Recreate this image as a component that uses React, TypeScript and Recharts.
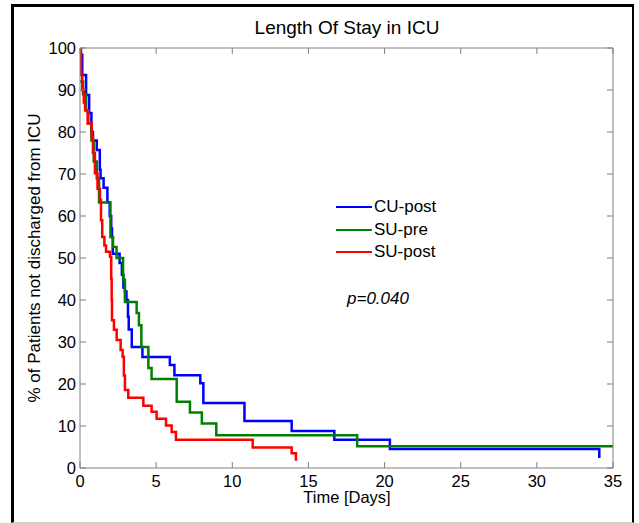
import React from 'react';
import { LineChart, Line, XAxis, YAxis, Legend } from 'recharts';

// ---- Data (Kaplan-Meier style step curves): [time in days, % not discharged]
const cuPostTimes = [0, 0.15, 0.4, 0.6, 0.75, 0.85, 1.1, 1.3, 1.35, 1.55, 1.8, 1.95, 2.05, 2.1, 2.15, 2.6, 2.75, 2.85, 2.95, 3.05, 3.15, 3.2, 3.4, 4.1, 5.9, 6.2, 7.9, 8.1, 10.8, 13.9, 16.7, 20.35, 34.1];
const cuPostValues = [98.4, 93.6, 88.8, 84.5, 80, 78, 75.7, 71, 69, 66.7, 63.3, 60, 57, 55, 51, 48.8, 46, 43, 42, 40, 36, 33, 28.8, 26.4, 24.5, 22.1, 20.2, 15.5, 11.2, 8.8, 6.7, 4.5, 2.4];

const suPreTimes = [0, 0.2, 0.4, 0.55, 0.75, 0.9, 1.1, 1.25, 2.0, 2.17, 2.4, 2.83, 2.95, 3.72, 3.87, 4.03, 4.49, 4.7, 6.35, 7.22, 8.0, 8.95, 18.2, 35];
const suPreValues = [92, 89, 85, 82, 78, 73, 69, 63.2, 55, 52.6, 50, 44.8, 39.5, 36.9, 34, 28.8, 23.8, 21.2, 15.8, 13.2, 10.6, 7.8, 5.2, 5.2];

const suPostTimes = [0, 0.07, 0.15, 0.25, 0.33, 0.5, 0.77, 0.85, 0.98, 1.15, 1.31, 1.38, 1.46, 1.6, 1.71, 1.97, 2.05, 2.08, 2.1, 2.23, 2.41, 2.67, 2.8, 2.88, 2.95, 3.17, 4.16, 4.7, 5.03, 5.65, 6.02, 6.3, 11.34, 13.9, 14.18];
const suPostValues = [100, 93.6, 90, 87, 85.2, 82, 78.8, 75, 70.2, 66.5, 63.8, 59, 55, 53, 51.5, 50.3, 45, 40, 35.2, 32.9, 30.5, 28.1, 26.5, 22, 18.6, 16.7, 14.8, 13.4, 11.7, 10.1, 8.6, 6.7, 4.9, 3.5, 1.7];

const xTicks = [0, 5, 10, 15, 20, 25, 30, 35];
const yTicks = [0, 10, 20, 30, 40, 50, 60, 70, 80, 90, 100];

const seriesNames = ['CU-post', 'SU-pre', 'SU-post'];
const seriesColors = ['#0000ff', '#008000', '#ff0000'];

const titleText = 'Length Of Stay in ICU';
const xLabelText = 'Time [Days]';
const yLabelText = '% of Patients not discharged from ICU';
const pValueText = 'p=0.040';

const toRows = (ts: number[], vs: number[]) => ts.map((t, i) => ({ t, p: vs[i] }));
const cuPost = toRows(cuPostTimes, cuPostValues);
const suPre = toRows(suPreTimes, suPreValues);
const suPost = toRows(suPostTimes, suPostValues);

const FONT = '"Liberation Sans", Arial, sans-serif';
const AXIS_GRAY = '#808080';

const LegendContent = () => (
  <div style={{ fontFamily: FONT, fontSize: 17, color: '#000' }}>
    {seriesNames.map((n, i) => (
      <div key={n} style={{ display: 'flex', alignItems: 'center', height: 22.5 }}>
        <div style={{ width: 36, height: 2, background: seriesColors[i], marginRight: 2 }} />
        <span>{n}</span>
      </div>
    ))}
  </div>
);

const Empty = () => <g />;

export default function App() {
  return (
    <div style={{ position: 'absolute', left: 0, top: 0, width: 639, height: 523, background: '#fff', fontFamily: FONT }}>
      <div
        style={{
          position: 'absolute',
          left: 11,
          top: 4,
          width: 618,
          height: 515,
          borderTop: '3px solid #000',
          borderLeft: '3px solid #000',
          borderRight: '2px solid #000',
          borderBottom: '1px solid #ccc',
        }}
      />
      <div style={{ position: 'absolute', left: 0, top: 0 }}>
        <LineChart width={639} height={523} margin={{ top: 47, right: 25, bottom: 0, left: 0 }}>
          <XAxis
            xAxisId="bottom"
            dataKey="t"
            type="number"
            domain={[0, 35]}
            ticks={xTicks}
            allowDataOverflow
            height={55}
            orientation="bottom"
            stroke={AXIS_GRAY}
            tickSize={-6}
            tickMargin={13}
            tick={{ fill: '#000', fontSize: 16.5, fontFamily: FONT }}
          />
          <XAxis
            xAxisId="top"
            dataKey="t"
            type="number"
            domain={[0, 35]}
            ticks={xTicks}
            allowDataOverflow
            height={1}
            orientation="top"
            stroke={AXIS_GRAY}
            tickSize={-6}
            tick={Empty}
          />
          <YAxis
            yAxisId="left"
            type="number"
            domain={[0, 100]}
            ticks={yTicks}
            allowDataOverflow
            width={80}
            orientation="left"
            stroke={AXIS_GRAY}
            tickSize={-6}
            tickMargin={10}
            tick={{ fill: '#000', fontSize: 16.5, fontFamily: FONT }}
          />
          <YAxis
            yAxisId="right"
            type="number"
            domain={[0, 100]}
            ticks={yTicks}
            allowDataOverflow
            width={1}
            orientation="right"
            stroke={AXIS_GRAY}
            tickSize={-6}
            tick={Empty}
          />
          <Line xAxisId="bottom" yAxisId="left" data={cuPost} dataKey="p" name={seriesNames[0]} type="stepAfter" stroke={seriesColors[0]} strokeWidth={2.5} dot={false} isAnimationActive={false} />
          <Line xAxisId="bottom" yAxisId="left" data={suPre} dataKey="p" name={seriesNames[1]} type="stepAfter" stroke={seriesColors[1]} strokeWidth={2.5} dot={false} isAnimationActive={false} />
          <Line xAxisId="bottom" yAxisId="left" data={suPost} dataKey="p" name={seriesNames[2]} type="stepAfter" stroke={seriesColors[2]} strokeWidth={2.5} dot={false} isAnimationActive={false} />
          <Line xAxisId="top" yAxisId="right" data={suPre} dataKey="p" stroke="none" strokeWidth={0} dot={false} legendType="none" isAnimationActive={false} />
          <Legend
            layout="vertical"
            align="center"
            verticalAlign="middle"
            content={LegendContent}
            wrapperStyle={{ position: 'absolute', left: 336, top: 196, width: 120, height: 70 }}
          />
        </LineChart>
      </div>
      <svg width={639} height={523} style={{ position: 'absolute', left: 0, top: 0, pointerEvents: 'none' }}>
        <text x={347} y={34} textAnchor="middle" fontSize={19} fontFamily={FONT} fill="#000">{titleText}</text>
        <text x={347} y={503} textAnchor="middle" fontSize={16.5} fontFamily={FONT} fill="#000">{xLabelText}</text>
        <text x={40} y={258} textAnchor="middle" fontSize={17} fontFamily={FONT} fill="#000" transform="rotate(-90 40 258)">{yLabelText}</text>
        <text x={347} y={304} fontSize={17} fontStyle="italic" fontFamily={FONT} fill="#000">{pValueText}</text>
      </svg>
    </div>
  );
}
